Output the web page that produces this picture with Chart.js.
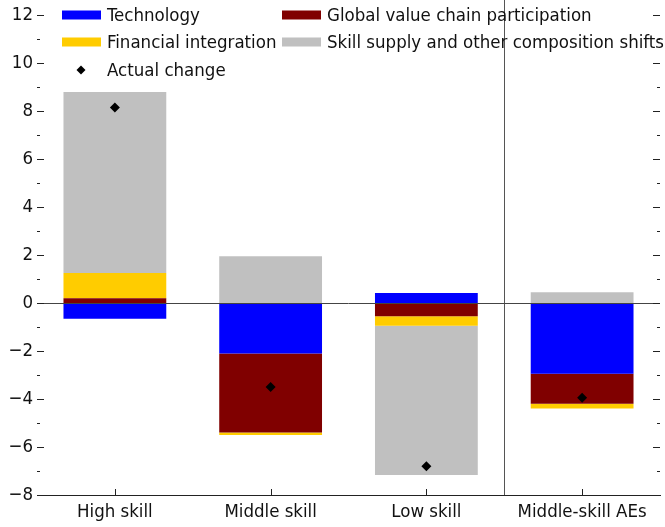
<!DOCTYPE html>
<html>
<head>
<meta charset="utf-8">
<script src="https://cdn.jsdelivr.net/npm/chart.js@4"></script>
<style>
  html, body { margin: 0; padding: 0; background: #fff; }
  #wrap { width: 665px; height: 527px; }
</style>
</head>
<body>
<div id="wrap"><canvas id="chart" width="665" height="527"></canvas></div>
<script>
const FONT = "'DejaVu Sans Condensed', 'Liberation Sans Narrow', sans-serif";
const FSIZE = 18.5;

const categories = ['High skill', 'Middle skill', 'Low skill', 'Middle-skill AEs'];

// contributions (percentage points), stacked in this order
const technology = [-0.65, -2.1, 0.42, -2.95];
const gvcParticipation = [0.2, -3.3, -0.55, -1.25];
const financialIntegration = [1.05, -0.1, -0.4, -0.2];
const skillSupply = [7.55, 1.95, -6.22, 0.45];
const actualChange = [8.15, -3.5, -6.8, -3.95];

const yMin = -8, yMax = 12;

const colors = {
    technology: '#0000ff',
    gvc: '#800000',
    financial: '#ffcc00',
    skill: '#c0c0c0',
};

const legendItems = [
    { label: 'Technology', color: colors.technology, col: 0, row: 0 },
    { label: 'Global value chain participation', color: colors.gvc, col: 1, row: 0 },
    { label: 'Financial integration', color: colors.financial, col: 0, row: 1 },
    { label: 'Skill supply and other composition shifts', color: colors.skill, col: 1, row: 1 },
    { label: 'Actual change', marker: true, col: 0, row: 2 },
];

// ticks inside the plot, zero line, separator and legend
const decorations = {
    id: 'decorations',
    beforeDatasetsDraw(chart) {
        const { ctx, chartArea: a, scales: { x } } = chart;
        ctx.save();
        // separator between groups
        const sepX = (x.getPixelForValue(2) + x.getPixelForValue(3)) / 2;
        ctx.strokeStyle = '#555';
        ctx.lineWidth = 1;
        ctx.beginPath();
        ctx.moveTo(Math.round(sepX) + 0.5, 0);
        ctx.lineTo(Math.round(sepX) + 0.5, a.bottom);
        ctx.stroke();
        ctx.restore();
    },
    afterDatasetsDraw(chart) {
        const { ctx, chartArea: a, scales: { x, y } } = chart;
        ctx.save();
        ctx.strokeStyle = '#444';
        ctx.lineWidth = 1;
        // zero line
        const y0 = Math.round(y.getPixelForValue(0)) + 0.5;
        ctx.beginPath();
        ctx.moveTo(a.left, y0);
        ctx.lineTo(a.right, y0);
        ctx.stroke();
        // y ticks, left and right
        ctx.strokeStyle = '#222';
        for (let v = yMin; v <= yMax; v++) {
            const py = Math.round(y.getPixelForValue(v)) + 0.5;
            const len = v % 2 === 0 ? 7 : 3;
            ctx.beginPath();
            ctx.moveTo(a.left, py);
            ctx.lineTo(a.left + len, py);
            ctx.moveTo(a.right, py);
            ctx.lineTo(a.right - len, py);
            ctx.stroke();
        }
        // x ticks pointing up
        categories.forEach((c, i) => {
            const px = Math.round(x.getPixelForValue(i)) + 0.5;
            ctx.beginPath();
            ctx.moveTo(px, a.bottom);
            ctx.lineTo(px, a.bottom - 6);
            ctx.stroke();
        });
        ctx.restore();
    },
    afterDraw(chart) {
        const { ctx } = chart;
        ctx.save();
        ctx.font = FSIZE + 'px ' + FONT;
        ctx.textBaseline = 'middle';
        const colX = [62, 282];
        const rowY = [15, 42, 70];
        legendItems.forEach(it => {
            const sx = colX[it.col], sy = rowY[it.row];
            if (it.marker) {
                ctx.beginPath();
                ctx.moveTo(sx + 19, sy - 4.5);
                ctx.lineTo(sx + 23.5, sy);
                ctx.lineTo(sx + 19, sy + 4.5);
                ctx.lineTo(sx + 14.5, sy);
                ctx.closePath();
                ctx.fillStyle = '#000';
                ctx.fill();
            } else {
                ctx.fillStyle = it.color;
                ctx.fillRect(sx, sy - 4.5, 39, 9);
            }
            ctx.fillStyle = '#111';
            ctx.fillText(it.label, sx + 45, sy + 1);
        });
        ctx.restore();
    },
};

const barDs = (label, data, color) => ({
    type: 'bar',
    label,
    data,
    backgroundColor: color,
    borderWidth: 0,
    stack: 'contrib',
    order: 2,
});

new Chart(document.getElementById('chart'), {
    type: 'bar',
    plugins: [decorations],
    data: {
        labels: categories,
        datasets: [
            barDs('Technology', technology, colors.technology),
            barDs('Global value chain participation', gvcParticipation, colors.gvc),
            barDs('Financial integration', financialIntegration, colors.financial),
            barDs('Skill supply and other composition shifts', skillSupply, colors.skill),
            {
                type: 'line',
                label: 'Actual change',
                data: actualChange,
                showLine: false,
                pointStyle: 'rectRot',
                pointRadius: 5,
                pointBackgroundColor: '#000',
                pointBorderWidth: 0,
                stack: 'actual',
                order: 1,
            },
        ],
    },
    options: {
        responsive: false,
        animation: false,
        layout: { padding: { top: 15, right: 0, left: 0, bottom: 0 } },
        datasets: {
            bar: { categoryPercentage: 1, barPercentage: 0.66 },
        },
        plugins: {
            legend: { display: false },
            tooltip: { enabled: false },
        },
        scales: {
            x: {
                stacked: true,
                grid: { display: false, drawTicks: false },
                border: { display: true, color: '#222', width: 1 },
                ticks: { color: '#111', font: { family: FONT, size: FSIZE }, padding: 6, maxRotation: 0 },
                afterFit(scale) { scale.height = 32; },
            },
            y: {
                stacked: true,
                min: yMin,
                max: yMax,
                grid: { display: false, drawTicks: false },
                border: { display: false },
                ticks: {
                    stepSize: 2,
                    color: '#111',
                    font: { family: FONT, size: FSIZE },
                    padding: 4,
                    callback: v => (v < 0 ? '\u2212' + Math.abs(v) : String(v)),
                },
                afterFit(scale) { scale.width = 37; },
            },
        },
    },
});
</script>
</body>
</html>
